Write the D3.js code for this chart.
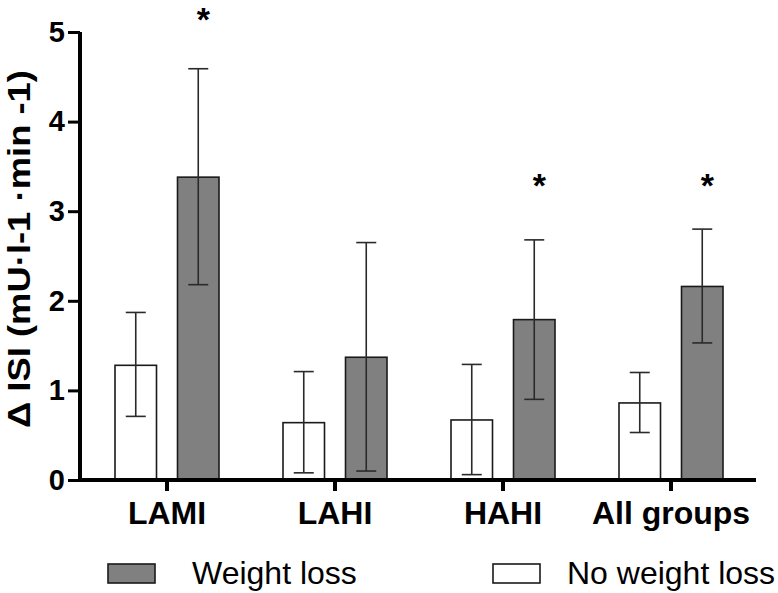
<!DOCTYPE html>
<html>
<head>
<meta charset="utf-8">
<script src="https://cdn.jsdelivr.net/npm/d3@7"></script>
<style>
  html, body { margin: 0; padding: 0; background: #fff; }
  svg { display: block; font-family: "Liberation Sans", Arial, sans-serif; }
</style>
</head>
<body>
<svg id="chart" width="778" height="593"></svg>
<script>
// ---- data ----
const categories = ["LAMI", "LAHI", "HAHI", "All groups"];
const series = ["No weight loss", "Weight loss"];
const noLossMean  = [1.28, 0.64, 0.67, 0.86];
const noLossLow   = [0.71, 0.08, 0.06, 0.53];
const noLossHigh  = [1.87, 1.21, 1.29, 1.20];
const lossMean    = [3.38, 1.37, 1.79, 2.16];
const lossLow     = [2.18, 0.10, 0.90, 1.53];
const lossHigh    = [4.59, 2.65, 2.68, 2.80];
const starLevel   = [5.18, null, 3.33, 3.33];
const yTicks      = [0, 1, 2, 3, 4, 5];
const yLabel      = "\u0394 ISI (mU\u00B7l-1 \u00B7min -1)";

// ---- layout ----
const svg = d3.select("#chart");
const y = d3.scaleLinear().domain([0, 5]).range([480, 32]);
const x = d3.scaleBand().domain(categories).range([83, 755]).paddingInner(0).paddingOuter(0);
const sub = d3.scaleBand().domain(series).range([-52, 52]).paddingInner(0.336).paddingOuter(0);
const fills = { "No weight loss": "#ffffff", "Weight loss": "#808080" };

const rows = [];
categories.forEach((c, i) => {
  rows.push({ cat: c, s: "No weight loss", v: noLossMean[i], lo: noLossLow[i], hi: noLossHigh[i] });
  rows.push({ cat: c, s: "Weight loss", v: lossMean[i], lo: lossLow[i], hi: lossHigh[i] });
});

const cx = d => x(d.cat) + x.bandwidth() / 2 + sub(d.s);

// bars
svg.append("g").selectAll("rect").data(rows).join("rect")
  .attr("x", d => cx(d))
  .attr("y", d => y(d.v))
  .attr("width", sub.bandwidth())
  .attr("height", d => y(0) - y(d.v))
  .attr("fill", d => fills[d.s])
  .attr("stroke", "#1a1a1a")
  .attr("stroke-width", 1.6);

// error bars
const eb = svg.append("g").attr("stroke", "#2a2a2a").attr("stroke-width", 1.6);
rows.forEach(d => {
  const m = cx(d) + sub.bandwidth() / 2;
  eb.append("line").attr("x1", m).attr("x2", m).attr("y1", y(d.hi)).attr("y2", y(d.lo));
  eb.append("line").attr("x1", m - 10).attr("x2", m + 10).attr("y1", y(d.hi)).attr("y2", y(d.hi));
  eb.append("line").attr("x1", m - 10).attr("x2", m + 10).attr("y1", y(d.lo)).attr("y2", y(d.lo));
});

// stars
svg.append("g").selectAll("text").data(categories.map((c, i) => ({ cat: c, s: "Weight loss", lv: starLevel[i] })).filter(d => d.lv != null))
  .join("text")
  .attr("x", d => cx(d) + sub.bandwidth() / 2 + 5)
  .attr("y", d => y(d.lv) + 15)
  .attr("text-anchor", "middle")
  .attr("font-size", 34)
  .attr("font-weight", "bold")
  .attr("fill", "#000")
  .text("*");

// y axis
const yAxis = svg.append("g").attr("transform", "translate(80,0)")
  .call(d3.axisLeft(y).tickValues(yTicks).tickFormat(d3.format("d")).tickSize(12).tickPadding(3));
yAxis.select(".domain").attr("stroke", "#000").attr("stroke-width", 4).attr("d", `M0,${y(5)}V${y(0) + 2}`);
yAxis.selectAll(".tick line").attr("stroke", "#000").attr("stroke-width", 3);
yAxis.selectAll(".tick text").attr("font-size", 29).attr("font-weight", "bold").attr("fill", "#000")
  .attr("font-family", "Liberation Sans, Arial, sans-serif");

// x axis
const xAxis = svg.append("g").attr("transform", `translate(0,${y(0)})`)
  .call(d3.axisBottom(x).tickSize(11).tickPadding(10));
xAxis.select(".domain").attr("stroke", "#000").attr("stroke-width", 4).attr("d", "M78,0H756");
xAxis.selectAll(".tick line").attr("stroke", "#000").attr("stroke-width", 4);
xAxis.selectAll(".tick text").attr("font-size", 32).attr("font-weight", "bold").attr("fill", "#000")
  .attr("font-family", "Liberation Sans, Arial, sans-serif");

// y label
svg.append("text")
  .attr("transform", "translate(30,249) rotate(-90)")
  .attr("text-anchor", "middle")
  .attr("font-size", 32)
  .attr("font-weight", "bold")
  .attr("fill", "#000")
  .attr("textLength", 358)
  .attr("lengthAdjust", "spacingAndGlyphs")
  .text(yLabel);

// legend
const legend = [
  { s: "Weight loss", rx: 108, tx: 192 },
  { s: "No weight loss", rx: 493, tx: 567 }
];
const lg = svg.append("g");
legend.forEach(l => {
  lg.append("rect").attr("x", l.rx).attr("y", 564).attr("width", 47).attr("height", 19)
    .attr("fill", fills[l.s]).attr("stroke", "#1a1a1a").attr("stroke-width", 1.6);
  lg.append("text").attr("x", l.tx).attr("y", 584).attr("font-size", 32).attr("fill", "#000").text(l.s);
});
</script>
</body>
</html>
